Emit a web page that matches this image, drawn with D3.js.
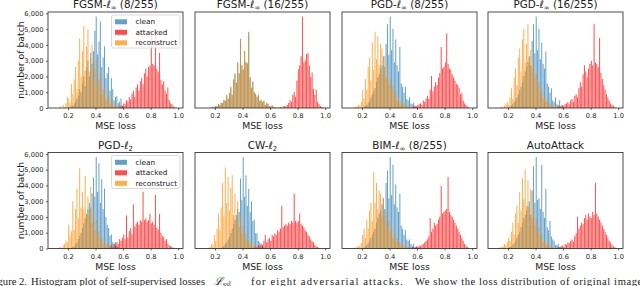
<!DOCTYPE html>
<html>
<head>
<meta charset="utf-8">
<script src="https://cdn.jsdelivr.net/npm/d3@7"></script>
<style>
body { margin: 0; background: #fff; }
svg { display: block; }
</style>
</head>
<body>
<div id="chart"></div>
<script>
// Panel titles: [before subscript, subscript, after]
var titles = [
    ['FGSM-ℓ', '∞', ' (8/255)'],
    ['FGSM-ℓ', '∞', ' (16/255)'],
    ['PGD-ℓ', '∞', ' (8/255)'],
    ['PGD-ℓ', '∞', ' (16/255)'],
    ['PGD-ℓ', '2', ''],
    ['CW-ℓ', '2', ''],
    ['BIM-ℓ', '∞', ' (8/255)'],
    ['AutoAttack', '', '']
];
var legendLabels = ['clean', 'attacked', 'reconstruct'];
var xTicks = [0.2, 0.4, 0.6, 0.8, 1.0];
var yTicks = [0, 1000, 2000, 3000, 4000, 5000, 6000];
var binWidth = 0.01;

// Histogram counts per 0.01 bin, first bin given in the *Start arrays
var cleanStart = [0.20, 0.16, 0.20, 0.20, 0.22, 0.24, 0.20, 0.20];
var clean = [
    [30,50,100,150,300,400,600,800,1200,1000,1600,2000,1400,2600,3000,2000,3500,2800,3600,4900,5800,3400,4200,5500,2600,3200,3900,1900,2200,2600,1100,1900,1200,500,700,750,300,400,600,150,100],
    [50,20,150,80,200,200,400,300,500,500,800,700,1300,900,1500,2100,1300,2800,3400,2500,4500,3400,6800,4200,3800,5600,4500,4400,7500,3000,2000,2600,1600,1400,1100,1300,700,800,600,700,300,500,400,200,150,250,100,100,50],
    [30,80,150,200,350,500,700,900,1100,1300,1700,2000,2200,2600,2800,3400,2700,4200,5500,3500,6000,3800,5200,3000,4500,2800,2400,4000,1600,1400,1000,1400,600,500,700,300,250,350,100,80,50],
    [40,80,150,250,400,550,700,900,1200,1400,1700,2100,2400,2700,3000,3400,2800,4400,5500,3600,6000,3800,5200,3200,4300,2900,2600,3700,1600,1400,1000,1300,500,400,700,250,200,500,100,80,50],
    [50,100,150,250,400,600,800,1000,1300,1600,1900,2200,2500,2900,2600,3500,4500,3300,5800,3600,5400,2900,4400,2500,3800,2000,1500,1300,800,900,400,300,400,150,100],
    [50,100,200,300,400,600,800,1000,1300,1600,1900,2200,2600,2400,4600,3200,6000,3400,4800,2800,3900,2400,3100,1800,1900,1000,1000,500,400,200,150,80],
    [30,80,150,250,350,500,700,900,1100,1300,1700,2000,2300,2500,2900,3300,2600,4300,5100,3300,6000,3500,5500,2900,4200,2700,2400,3600,1500,1300,900,1200,600,500,600,300,200,300,100,80,50],
    [40,100,150,250,350,500,700,900,1100,1400,1700,2000,2200,2500,2800,3100,2200,3800,5400,3000,6000,3200,3300,2600,5500,2400,2000,3900,1400,1200,1800,800,600,500,250,200,300,100,80,50]
];

var attackedStart = [0.56, 0.66, 0.56, 0.55, 0.50, 0.48, 0.55, 0.55];
var attacked = [
    [50,100,150,100,300,250,500,400,700,550,900,1100,700,1300,1500,1100,1700,1900,1500,2200,2500,2000,2600,2700,4700,2800,2700,5000,2500,2300,3500,1800,1500,1700,1100,900,1300,500,300,250,100,50],
    [50,100,50,150,200,150,300,500,800,600,1300,1600,1100,2700,3800,4200,5100,9000,4500,4700,5300,5400,4200,3100,3500,1900,1300,1800,600,400,200,100,60],
    [50,100,150,100,200,250,300,200,500,400,600,800,600,1200,2100,1100,1400,1700,1500,2000,2300,4000,2600,2700,3000,4900,2900,2600,2500,2200,2000,1800,1600,1500,1300,900,1000,500,300,200,100,50],
    [50,100,80,150,200,150,250,300,400,250,500,600,400,800,900,700,1300,1700,1400,2200,2800,2400,2000,2600,2900,3100,2800,5500,3000,2900,2700,4600,2300,1900,1500,1200,900,700,500,300,200,150,50],
    [100,200,100,300,200,400,300,600,500,700,900,600,2100,700,1100,1300,900,2800,1400,1600,1700,1500,1800,1700,3600,1800,1900,1700,1800,2200,1600,1700,1500,3400,1300,1200,2200,1000,800,700,500,600,300,200,150,100,50],
    [50,100,80,200,150,300,250,500,900,400,600,700,500,900,800,1000,900,1200,1100,1300,2800,1400,1500,1600,1500,1700,1600,1800,1700,3600,1800,1700,1800,2300,1600,1500,1400,1200,1100,900,800,600,500,400,250,150,100,50],
    [50,80,100,60,150,100,200,150,250,300,400,500,600,800,2000,1100,1300,1700,1500,1600,1900,2100,4100,2300,2400,2500,2600,4700,2400,2200,2100,1900,1700,1500,1300,1100,900,700,500,300,200,100,50],
    [50,100,60,150,200,100,300,250,400,350,500,600,450,800,1000,2100,1300,1500,1700,1600,2000,2200,1900,2300,2100,2000,2400,2200,4300,2300,2100,1900,1700,1500,1300,1100,900,700,500,400,250,150,80,50]
];

var reconstructStart = [0.14, 0.16, 0.14, 0.14, 0.13, 0.15, 0.14, 0.13];
var reconstruct = [
    [100,0,200,50,300,700,600,300,1500,900,1800,2600,1200,3000,4400,2000,3600,5200,2400,3900,5000,2300,3100,4000,1700,2500,3100,1300,1800,2200,900,1200,1300,500,700,800,250,400,350,100,200,150,50,100,50,20],
    [50,0,100,80,150,200,350,300,500,450,800,700,1200,900,1500,2000,1300,2800,3300,2500,4400,3400,6700,4200,3800,5600,4500,4400,7400,3000,2000,2600,1500,1400,1100,1300,700,800,600,700,300,500,400,200,150,250,100,100,50],
    [50,80,100,200,150,400,1200,600,1900,1200,2700,3300,1800,4300,2500,5000,3200,4700,2800,4200,3900,2200,3400,2000,2700,1500,1900,1200,1500,800,1100,500,700,300,450,200,300,150,200,80,100,50],
    [50,100,60,150,300,400,200,700,1300,600,2000,2600,1500,3300,3900,2400,4500,5200,3000,4200,5500,3300,3800,2600,3000,2000,2300,1400,1700,900,1200,600,800,400,500,200,300,150,200,80,100,50,60],
    [50,100,50,200,300,500,400,1500,800,1100,3000,1200,2500,3800,1900,5100,2600,3600,2500,4600,2200,3300,2000,3900,1600,2400,1100,1800,800,1100,500,700,300,500,200,300,100,200,80,60],
    [50,100,300,200,900,500,1300,2300,1200,2700,4300,2100,5300,3000,4700,2500,4000,4800,2200,3600,1800,3100,1400,2200,1000,1500,700,1000,400,600,300,400,150,250,100,150,50,80],
    [50,60,100,150,200,350,900,1300,700,1900,1300,2500,3000,1800,5000,3000,4300,2600,3800,3600,2200,3300,1900,2500,1400,1800,1100,1400,700,1000,500,700,300,400,200,300,150,200,80,100,50],
    [50,80,100,150,300,200,450,700,500,1100,1700,900,2300,2800,1700,3700,2500,4600,3200,5200,2800,4500,2500,3900,2000,2800,1500,2000,1000,1400,700,900,400,600,250,350,150,200,80,100,50]
];

var colors = ['#1f77b4', '#ff0000', '#ff8c00'];
var font = 'DejaVu Sans, sans-serif';

var W = 640, H = 286;
var colLeft = [48, 195, 342, 488];
var rowTop = [12, 152.5];
var pw = 135, ph = 96;

var svg = d3.select('#chart').append('svg')
    .attr('width', W)
    .attr('height', H)
    .attr('font-family', font);

for (var p = 0; p < 8; p++) {
    var r = Math.floor(p / 4), c = p % 4;
    var g = svg.append('g')
        .attr('transform', 'translate(' + colLeft[c] + ',' + rowTop[r] + ')');

    var series = [
        { counts: clean[p], start: cleanStart[p] },
        { counts: attacked[p], start: attackedStart[p] },
        { counts: reconstruct[p], start: reconstructStart[p] }
    ];

    var x = d3.scaleLinear().domain([0.055, 1.035]).range([0, pw]);
    var ymax = 1.05 * d3.max(series, function (s) { return d3.max(s.counts); });
    var y = d3.scaleLinear().domain([0, ymax]).range([ph, 0]);
    var bw = (x(binWidth) - x(0)) * 0.72;

    series.forEach(function (s, k) {
        g.append('g').selectAll('rect')
            .data(s.counts)
            .enter()
            .append('rect')
            .attr('x', function (d, i) { return x(s.start + (i + 0.5) * binWidth) - bw / 2; })
            .attr('width', bw)
            .attr('y', function (d) { return y(d); })
            .attr('height', function (d) { return ph - y(d); })
            .attr('fill', colors[k])
            .attr('fill-opacity', 0.7);
    });

    // frame
    g.append('rect')
        .attr('width', pw)
        .attr('height', ph)
        .attr('fill', 'none')
        .attr('stroke', '#222')
        .attr('stroke-width', 0.8);

    // x axis
    var xa = g.append('g')
        .attr('transform', 'translate(0,' + ph + ')')
        .call(d3.axisBottom(x).tickValues(xTicks).tickFormat(d3.format('.1f')).tickSize(2).tickPadding(3.5));
    xa.select('.domain').remove();
    xa.selectAll('line').attr('stroke', '#222').attr('stroke-width', 0.7);
    xa.selectAll('text').attr('font-size', '6.7px').attr('fill', '#222').attr('font-family', font);

    g.append('text')
        .attr('x', pw / 2)
        .attr('y', ph + 21)
        .attr('text-anchor', 'middle')
        .attr('font-size', '9.3px')
        .attr('fill', '#222')
        .text('MSE loss');

    // title
    var t = g.append('text')
        .attr('x', pw / 2)
        .attr('y', -4)
        .attr('text-anchor', 'middle')
        .attr('font-size', '10.4px')
        .attr('fill', '#222');
    t.append('tspan').text(titles[p][0]);
    if (titles[p][1]) {
        t.append('tspan').attr('font-size', '7px').attr('dy', 2).text(titles[p][1]);
        t.append('tspan').attr('dy', -2).text(titles[p][2]);
    }

    if (c === 0) {
        var ya = g.append('g')
            .call(d3.axisLeft(y).tickValues(yTicks).tickSize(2).tickPadding(2.5));
        ya.select('.domain').remove();
        ya.selectAll('line').attr('stroke', '#222').attr('stroke-width', 0.7);
        ya.selectAll('text').attr('font-size', '6.7px').attr('fill', '#222').attr('font-family', font);

        g.append('text')
            .attr('transform', 'translate(-24,' + (ph / 2) + ') rotate(-90)')
            .attr('text-anchor', 'middle')
            .attr('font-size', '9.3px')
            .attr('fill', '#222')
            .text('number of batch');

        // legend
        var lg = g.append('g').attr('transform', 'translate(63.5,3)');
        lg.append('rect')
            .attr('width', 68.5)
            .attr('height', 33)
            .attr('rx', 2)
            .attr('fill', '#fff')
            .attr('fill-opacity', 0.8)
            .attr('stroke', '#ccc')
            .attr('stroke-width', 0.7);
        legendLabels.forEach(function (lab, k) {
            lg.append('rect')
                .attr('x', 3.5)
                .attr('y', 4.3 + k * 10.5)
                .attr('width', 12)
                .attr('height', 5)
                .attr('fill', colors[k])
                .attr('fill-opacity', 0.7);
            lg.append('text')
                .attr('x', 24)
                .attr('y', 9.3 + k * 10.5)
                .attr('font-size', '7.3px')
                .attr('fill', '#222')
                .text(lab);
        });
    }
}

// caption (justified line, partly cut by the bottom edge as in the page)
var capY = 285;
var cap = svg.append('g')
    .attr('font-family', 'Liberation Serif, Times New Roman, serif')
    .attr('font-size', '10.6px')
    .attr('fill', '#222');
cap.append('text').attr('x', 27).attr('y', capY).attr('text-anchor', 'end').text('Figure 2.');
cap.append('text').attr('x', 31).attr('y', capY)
    .attr('textLength', 174).attr('lengthAdjust', 'spacing')
    .text('Histogram plot of self-supervised losses');
var lt = cap.append('text').attr('x', 214).attr('y', capY);
lt.append('tspan').attr('font-style', 'italic').text('ℒ');
lt.append('tspan').attr('font-size', '7.5px').attr('dy', 2).text('ssl');
cap.append('text').attr('x', 251).attr('y', capY)
    .attr('textLength', 152).attr('lengthAdjust', 'spacing')
    .text('for eight adversarial attacks.');
cap.append('text').attr('x', 415).attr('y', capY)
    .attr('textLength', 232).attr('lengthAdjust', 'spacing')
    .text('We show the loss distribution of original images');
</script>
</body>
</html>
